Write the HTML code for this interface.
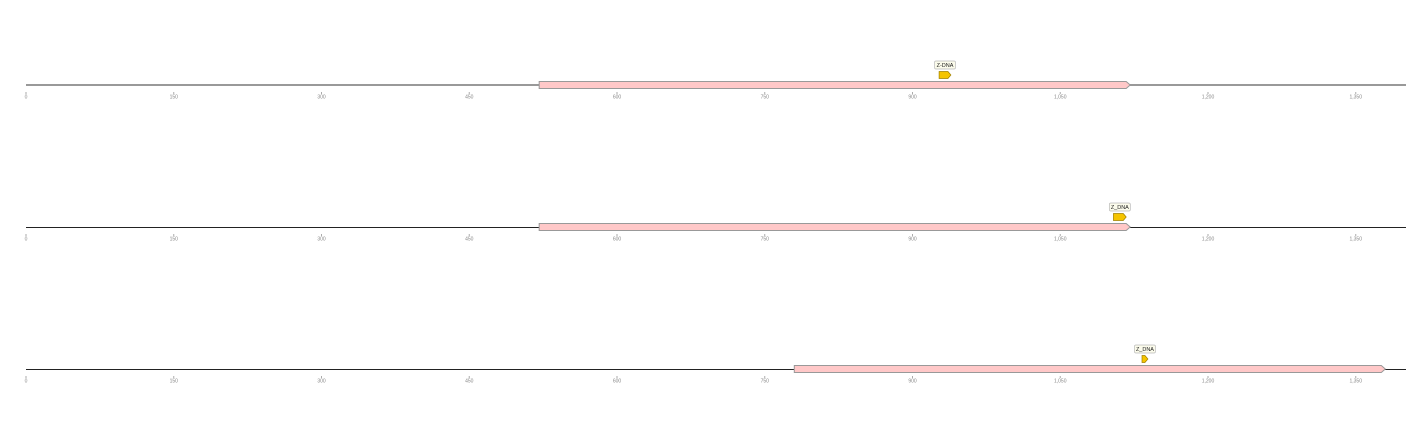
<!DOCTYPE html>
<html><head><meta charset="utf-8"><style>
html,body{margin:0;padding:0;background:#fff;width:1420px;height:432px;overflow:hidden}
svg{display:block}
text{font-family:"Liberation Sans",sans-serif}
</style></head><body>
<svg id="chart" width="1420" height="432" xmlns="http://www.w3.org/2000/svg"></svg>
<script>
const ticks = [0,150,300,450,600,750,900,1050,1200,1350];
const tickLabels = ["0","150","300","450","600","750","900","1,050","1,200","1,350"];
const trackNames = ["track-1","track-2","track-3"];
const featStart = [521,521,780];
const featEnd = [1121,1121,1380];
const markStart = [927,1104,1133];
const markEnd = [939,1117,1139];
const markLabels = ["Z-DNA","Z_DNA","Z_DNA"];
const seqLen = 1401;

const NS="http://www.w3.org/2000/svg";
const svg=document.getElementById('chart');
const x0=26, k=0.985;
const X=v=>x0+v*k;
const trackY=[85,227,369];
function el(tag,attrs,parent){const e=document.createElementNS(NS,tag);for(const a in attrs)e.setAttribute(a,attrs[a]);(parent||svg).appendChild(e);return e;}

trackNames.forEach((nm,i)=>{
  const y=trackY[i];
  const g=el('g',{});
  
  
  const ln=el('line',{x1:X(0),x2:X(seqLen),y1:i==0?y:y+0.5,y2:i==0?y:y+0.5,stroke:i==0?'#999':'#222','stroke-width':i==0?2:1},g);
  
  
  ticks.forEach((t,j)=>{
    const tk=el('line',{x1:X(t),x2:X(t),y1:y+7,y2:y+9,stroke:'#aaa','stroke-width':1},g);
    
    
    const tx=el('text',{x:X(t),y:y+13.5,'font-size':5,fill:'#888','text-anchor':'middle'},g);
    tx.textContent=tickLabels[j];
    
    
  });
  const a=X(featStart[i]), b=X(featEnd[i]);
  const f=el('path',{d:`M${a},${y-3.5}L${b-4},${y-3.5}L${b},${y}L${b-4},${y+3.5}L${a},${y+3.5}Z`,fill:'#ffc8c8',stroke:'#999','stroke-width':1},g);
  
  
  const ma=X(markStart[i]), mb=X(markEnd[i]), my=y-10;
  const m=el('path',{d:`M${ma},${my-3.5}L${mb-3},${my-3.5}L${mb},${my}L${mb-3},${my+3.5}L${ma},${my+3.5}Z`,fill:'#f5c400',stroke:'#a08000','stroke-width':0.7},g);
  
  
  const cx=(ma+mb)/2;
  const w=markLabels[i].length*3.4+4;
  const lb=el('rect',{x:cx-w/2,y:y-24,width:w,height:8,rx:1.5,fill:'#fbfbeb',stroke:'#bbb','stroke-width':0.7},g);
  
  
  const lt=el('text',{x:cx,y:y-18,'font-size':5.5,fill:'#222','text-anchor':'middle'},g);
  lt.textContent=markLabels[i];
  
  
});
</script>
</body></html>
